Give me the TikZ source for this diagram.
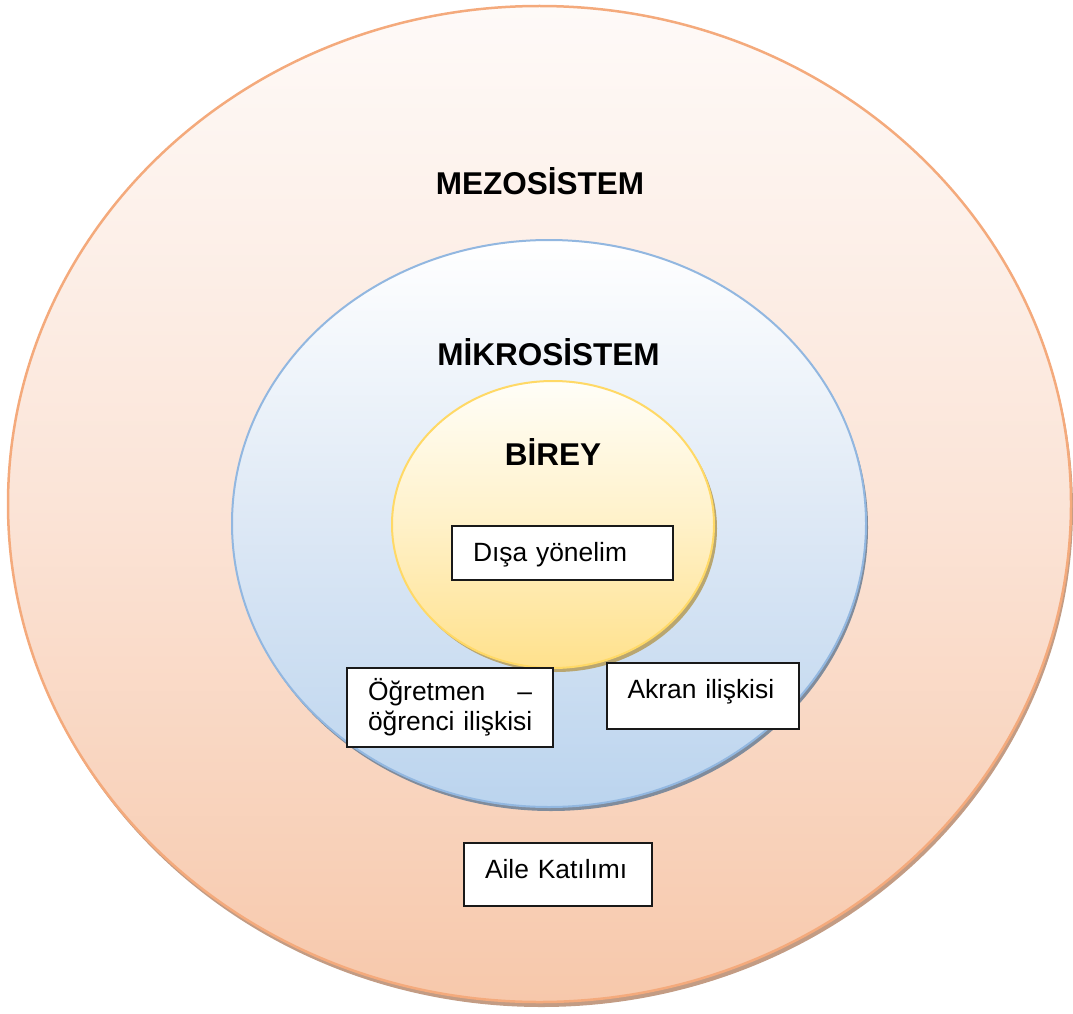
\documentclass[tikz,border=0pt]{standalone}
\usepackage{fontspec}
\setmainfont{Liberation Sans}
\usetikzlibrary{shapes.geometric,shadows}
\definecolor{mesoTop}{HTML}{FEFAF8}
\definecolor{mesoMid}{HTML}{FBE4D7}
\definecolor{mesoBot}{HTML}{F7C8AB}
\definecolor{mesoLine}{HTML}{F4AA7C}
\definecolor{mesoShadow}{HTML}{C39C84}
\definecolor{mikroTop}{HTML}{FFFFFF}
\definecolor{mikroMid}{HTML}{DDE8F5}
\definecolor{mikroBot}{HTML}{BBD4EE}
\definecolor{mikroLine}{HTML}{92B7E0}
\definecolor{mikroShadow}{HTML}{808C9C}
\definecolor{bireyTop}{HTML}{FFFEF8}
\definecolor{bireyMid}{HTML}{FFF1C8}
\definecolor{bireyBot}{HTML}{FFE18C}
\definecolor{bireyLine}{HTML}{FFD966}
\definecolor{bireyShadow}{HTML}{B9A670}
\begin{document}
\begin{tikzpicture}[x=1pt,y=-1pt,
  ring/.style={ellipse, inner sep=0pt, outer sep=0pt},
  heading/.style={font=\fontsize{31.5}{36}\selectfont\bfseries, inner sep=0pt, anchor=base},
  textbox/.style={draw=black!90, line width=2pt, fill=white, inner xsep=21pt, inner ysep=0pt,
    align=left, font=\fontsize{26.4}{30}\selectfont}]
\useasboundingbox (0,0) rectangle (1073,1014);
% outer ring
\node[ring, minimum width=1063pt, minimum height=996pt, draw=mesoLine, line width=2.5pt,
  top color=mesoTop, bottom color=mesoBot, middle color=mesoMid,
  drop shadow={shadow xshift=2pt, shadow yshift=-5pt, fill=mesoShadow, opacity=1}]
  (meso) at (539.5,504) {};
% middle ring
\node[ring, minimum width=634pt, minimum height=567pt, draw=mikroLine, line width=2pt,
  top color=mikroTop, bottom color=mikroBot, middle color=mikroMid,
  drop shadow={shadow xshift=2pt, shadow yshift=-4pt, fill=mikroShadow, opacity=1}]
  (mikro) at (549,523.5) {};
% inner ring
\node[ring, minimum width=322pt, minimum height=287pt, draw=bireyLine, line width=2pt,
  top color=bireyTop, bottom color=bireyBot, middle color=bireyMid,
  drop shadow={shadow xshift=3pt, shadow yshift=-4pt, fill=bireyShadow, opacity=1}]
  (birey) at (553,524.5) {};
% headings
\node[heading] (mesoT) at (540,194) {MEZOSİSTEM};
\node[heading] (mikroT) at (548.5,365) {MİKROSİSTEM};
\node[heading] (bireyT) at (553,465) {BİREY};
% boxes
\node[textbox, text width=179pt, minimum height=54pt, text height=20pt, text depth=4pt]
  (disa) at (562.5,553) {Dışa yönelim};
\node[textbox, text width=164pt, minimum height=79pt]
  (ogretmen) at (450,707.5) {\mbox{Öğretmen}\hfill–\\\mbox{öğrenci ilişkisi}};
\node[textbox, text width=150pt, minimum height=66pt, text height=20pt, text depth=15pt]
  (akran) at (702.5,695.5) {Akran ilişkisi};
\node[textbox, text width=146pt, minimum height=63pt, text height=20pt, text depth=13pt]
  (aile) at (558,874.5) {Aile Katılımı};
\end{tikzpicture}
\end{document}
